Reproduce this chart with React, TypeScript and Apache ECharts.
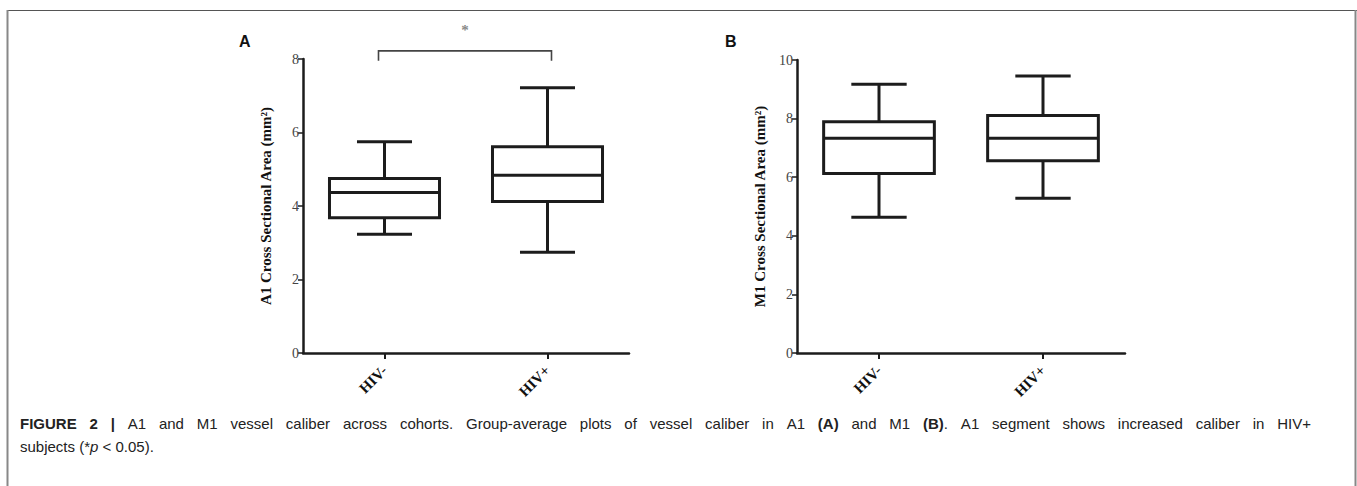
import React, { useEffect, useRef } from "react";
import * as echarts from "echarts";

const categories = ["HIV-", "HIV+"];
// [categoryIndex, lowerWhisker, Q1, median, Q3, upperWhisker]
const a1Boxes = [
  [0, 3.23, 3.68, 4.37, 4.75, 5.75],
  [1, 2.74, 4.12, 4.84, 5.61, 7.22],
];
const m1Boxes = [
  [0, 4.63, 6.13, 7.33, 7.89, 9.17],
  [1, 5.28, 6.56, 7.33, 8.11, 9.45],
];
// [fromCategory, toCategory, bracketY, bracketTickBottomY, starY]
const a1Significance = [[0, 1, 8.22, 7.95, 8.78]];
const a1Ticks = { min: 0, max: 8, interval: 2 };
const m1Ticks = { min: 0, max: 10, interval: 2 };
const a1Name = "A1 Cross Sectional Area (mm²)";
const m1Name = "M1 Cross Sectional Area (mm²)";
// caption words: each word is a list of [text, style] segments (n normal, b bold, i italic)
const captionLine1 = [
  [["FIGURE", "b"]], [["2", "b"]], [["|", "b"]], [["A1", "n"]], [["and", "n"]], [["M1", "n"]],
  [["vessel", "n"]], [["caliber", "n"]], [["across", "n"]], [["cohorts.", "n"]], [["Group-average", "n"]],
  [["plots", "n"]], [["of", "n"]], [["vessel", "n"]], [["caliber", "n"]], [["in", "n"]], [["A1", "n"]],
  [["(A)", "b"]], [["and", "n"]], [["M1", "n"]], [["(B)", "b"], [".", "n"]], [["A1", "n"]],
  [["segment", "n"]], [["shows", "n"]], [["increased", "n"]], [["caliber", "n"]], [["in", "n"]], [["HIV+", "n"]],
];
const captionLine2 = "subjects (*{i|p} < 0.05).";

const INK = "#1c1c1c";
const SERIF = "'Liberation Serif', 'DejaVu Serif', serif";
const SANS = "'Liberation Sans', Arial, sans-serif";
const CAP_SIZE = 15;

function boxRender(params: any, api: any) {
  const idx = api.value(0);
  const low = api.coord([idx, api.value(1)]);
  const q1 = api.coord([idx, api.value(2)]);
  const med = api.coord([idx, api.value(3)]);
  const q3 = api.coord([idx, api.value(4)]);
  const high = api.coord([idx, api.value(5)]);
  const band = api.size([1, 0])[0];
  const w = band * 0.675;
  const cx = q1[0];
  const style = { stroke: INK, lineWidth: 3, fill: "none" };
  return {
    type: "group",
    children: [
      { type: "line", shape: { x1: cx, y1: q3[1], x2: cx, y2: high[1] }, style },
      { type: "line", shape: { x1: cx - w / 4, y1: high[1], x2: cx + w / 4, y2: high[1] }, style },
      { type: "line", shape: { x1: cx, y1: q1[1], x2: cx, y2: low[1] }, style },
      { type: "line", shape: { x1: cx - w / 4, y1: low[1], x2: cx + w / 4, y2: low[1] }, style },
      { type: "rect", shape: { x: cx - w / 2, y: q3[1], width: w, height: q1[1] - q3[1] }, style: { stroke: INK, lineWidth: 3, fill: "#fff" } },
      { type: "line", shape: { x1: cx - w / 2, y1: med[1], x2: cx + w / 2, y2: med[1] }, style },
    ],
  };
}

function sigRender(params: any, api: any) {
  const p0 = api.coord([api.value(0), api.value(2)]);
  const p1 = api.coord([api.value(1), api.value(2)]);
  const b0 = api.coord([api.value(0), api.value(3)]);
  const star = api.coord([(api.value(0) + api.value(1)) / 2, api.value(4)]);
  const x0 = p0[0] - 6;
  const x1 = p1[0] + 4;
  return {
    type: "group",
    children: [
      {
        type: "polyline",
        shape: { points: [[x0, b0[1]], [x0, p0[1]], [x1, p0[1]], [x1, b0[1]]] },
        style: { stroke: "#444", lineWidth: 1.6, fill: "none" },
      },
      {
        type: "text",
        x: (x0 + x1) / 2,
        y: star[1],
        style: { text: "*", fill: "#888", font: `bold 15px ${SERIF}`, align: "center", verticalAlign: "middle" },
      },
    ],
  };
}

function yAxis(ticks: any, name: string, gridIndex: number) {
  return {
    type: "value",
    gridIndex,
    min: ticks.min,
    max: ticks.max,
    interval: ticks.interval,
    name,
    nameLocation: "middle",
    nameRotate: 90,
    nameGap: 30,
    nameTextStyle: { fontFamily: SERIF, fontWeight: "bold", fontSize: 15, color: "#111" },
    axisLine: { show: true, lineStyle: { color: INK, width: 2.5 } },
    axisTick: { show: true, length: 5, lineStyle: { color: INK, width: 1.5 } },
    axisLabel: { fontFamily: SERIF, fontSize: 14, color: "#444", margin: 4 },
    splitLine: { show: false },
  };
}

function xAxis(gridIndex: number) {
  return {
    type: "category",
    gridIndex,
    data: categories,
    boundaryGap: true,
    axisLine: { show: true, lineStyle: { color: INK, width: 2.5 } },
    axisTick: { show: true, alignWithLabel: true, length: 6, lineStyle: { color: INK, width: 2 } },
    axisLabel: { rotate: 45, fontFamily: SERIF, fontWeight: "bold", fontSize: 15, color: "#111", margin: 15 },
    splitLine: { show: false },
  };
}

function segFont(s: string) {
  if (s === "b") return `bold ${CAP_SIZE}px ${SANS}`;
  if (s === "i") return `italic ${CAP_SIZE}px ${SANS}`;
  return `${CAP_SIZE}px ${SANS}`;
}

function justifiedLine(words: any[], left: number, right: number, top: number) {
  const ctx = document.createElement("canvas").getContext("2d") as CanvasRenderingContext2D;
  const measured = words.map((word: any[]) =>
    word.map(([t, s]: any) => {
      ctx.font = segFont(s);
      return { t, s, w: ctx.measureText(t).width };
    })
  );
  const widths = measured.map((segs: any[]) => segs.reduce((a: number, b: any) => a + b.w, 0));
  const total = widths.reduce((a: number, b: number) => a + b, 0);
  const gap = (right - left - total) / (words.length - 1);
  const out: any[] = [];
  let x = left;
  measured.forEach((segs: any[], i: number) => {
    let sx = x;
    segs.forEach((seg: any) => {
      out.push({
        type: "text",
        x: sx,
        y: top,
        style: { text: seg.t, font: segFont(seg.s), fill: "#222", verticalAlign: "top" },
      });
      sx += seg.w;
    });
    x += widths[i] + gap;
  });
  return out;
}

export default function App() {
  const ref = useRef<HTMLDivElement>(null);
  useEffect(() => {
    document.body.style.margin = "0";
    if (!ref.current) return;
    const chart = echarts.init(ref.current, undefined, { renderer: "svg" });
    chart.setOption({
      animation: false,
      backgroundColor: "#fff",
      grid: [
        { left: 303, top: 59, width: 326, height: 294 },
        { left: 797, top: 60, width: 328, height: 293 },
      ],
      xAxis: [xAxis(0), xAxis(1)],
      yAxis: [yAxis(a1Ticks, a1Name, 0), yAxis(m1Ticks, m1Name, 1)],
      series: [
        { type: "custom", name: "A1", xAxisIndex: 0, yAxisIndex: 0, data: a1Boxes, renderItem: boxRender, encode: { x: 0, y: [1, 2, 3, 4, 5] }, clip: false },
        { type: "custom", name: "M1", xAxisIndex: 1, yAxisIndex: 1, data: m1Boxes, renderItem: boxRender, encode: { x: 0, y: [1, 2, 3, 4, 5] }, clip: false },
        { type: "custom", name: "sig", xAxisIndex: 0, yAxisIndex: 0, data: a1Significance, renderItem: sigRender, encode: { x: [0, 1], y: [2, 3, 4] }, clip: false },
      ],
      graphic: [
        { type: "line", shape: { x1: 7, y1: 10.5, x2: 1357, y2: 10.5 }, style: { stroke: "#555", lineWidth: 1.2 } },
        { type: "line", shape: { x1: 7.5, y1: 10, x2: 7.5, y2: 486 }, style: { stroke: "#888", lineWidth: 2 } },
        { type: "line", shape: { x1: 1355.5, y1: 10, x2: 1355.5, y2: 486 }, style: { stroke: "#888", lineWidth: 2 } },
        { type: "text", left: 239, top: 33, style: { text: "A", font: `bold 16px ${SANS}`, fill: "#111" } },
        { type: "text", left: 725, top: 33, style: { text: "B", font: `bold 16px ${SANS}`, fill: "#111" } },
        ...justifiedLine(captionLine1, 20, 1311, 416),
        {
          type: "text",
          left: 20,
          top: 439,
          style: {
            text: captionLine2,
            font: `${CAP_SIZE}px ${SANS}`,
            fill: "#222",
            rich: { i: { fontStyle: "italic", fontSize: CAP_SIZE, fontFamily: SANS, fill: "#222" } },
          },
        },
      ],
    });
    return () => chart.dispose();
  }, []);
  return <div ref={ref} style={{ width: 1357, height: 486 }} />;
}
